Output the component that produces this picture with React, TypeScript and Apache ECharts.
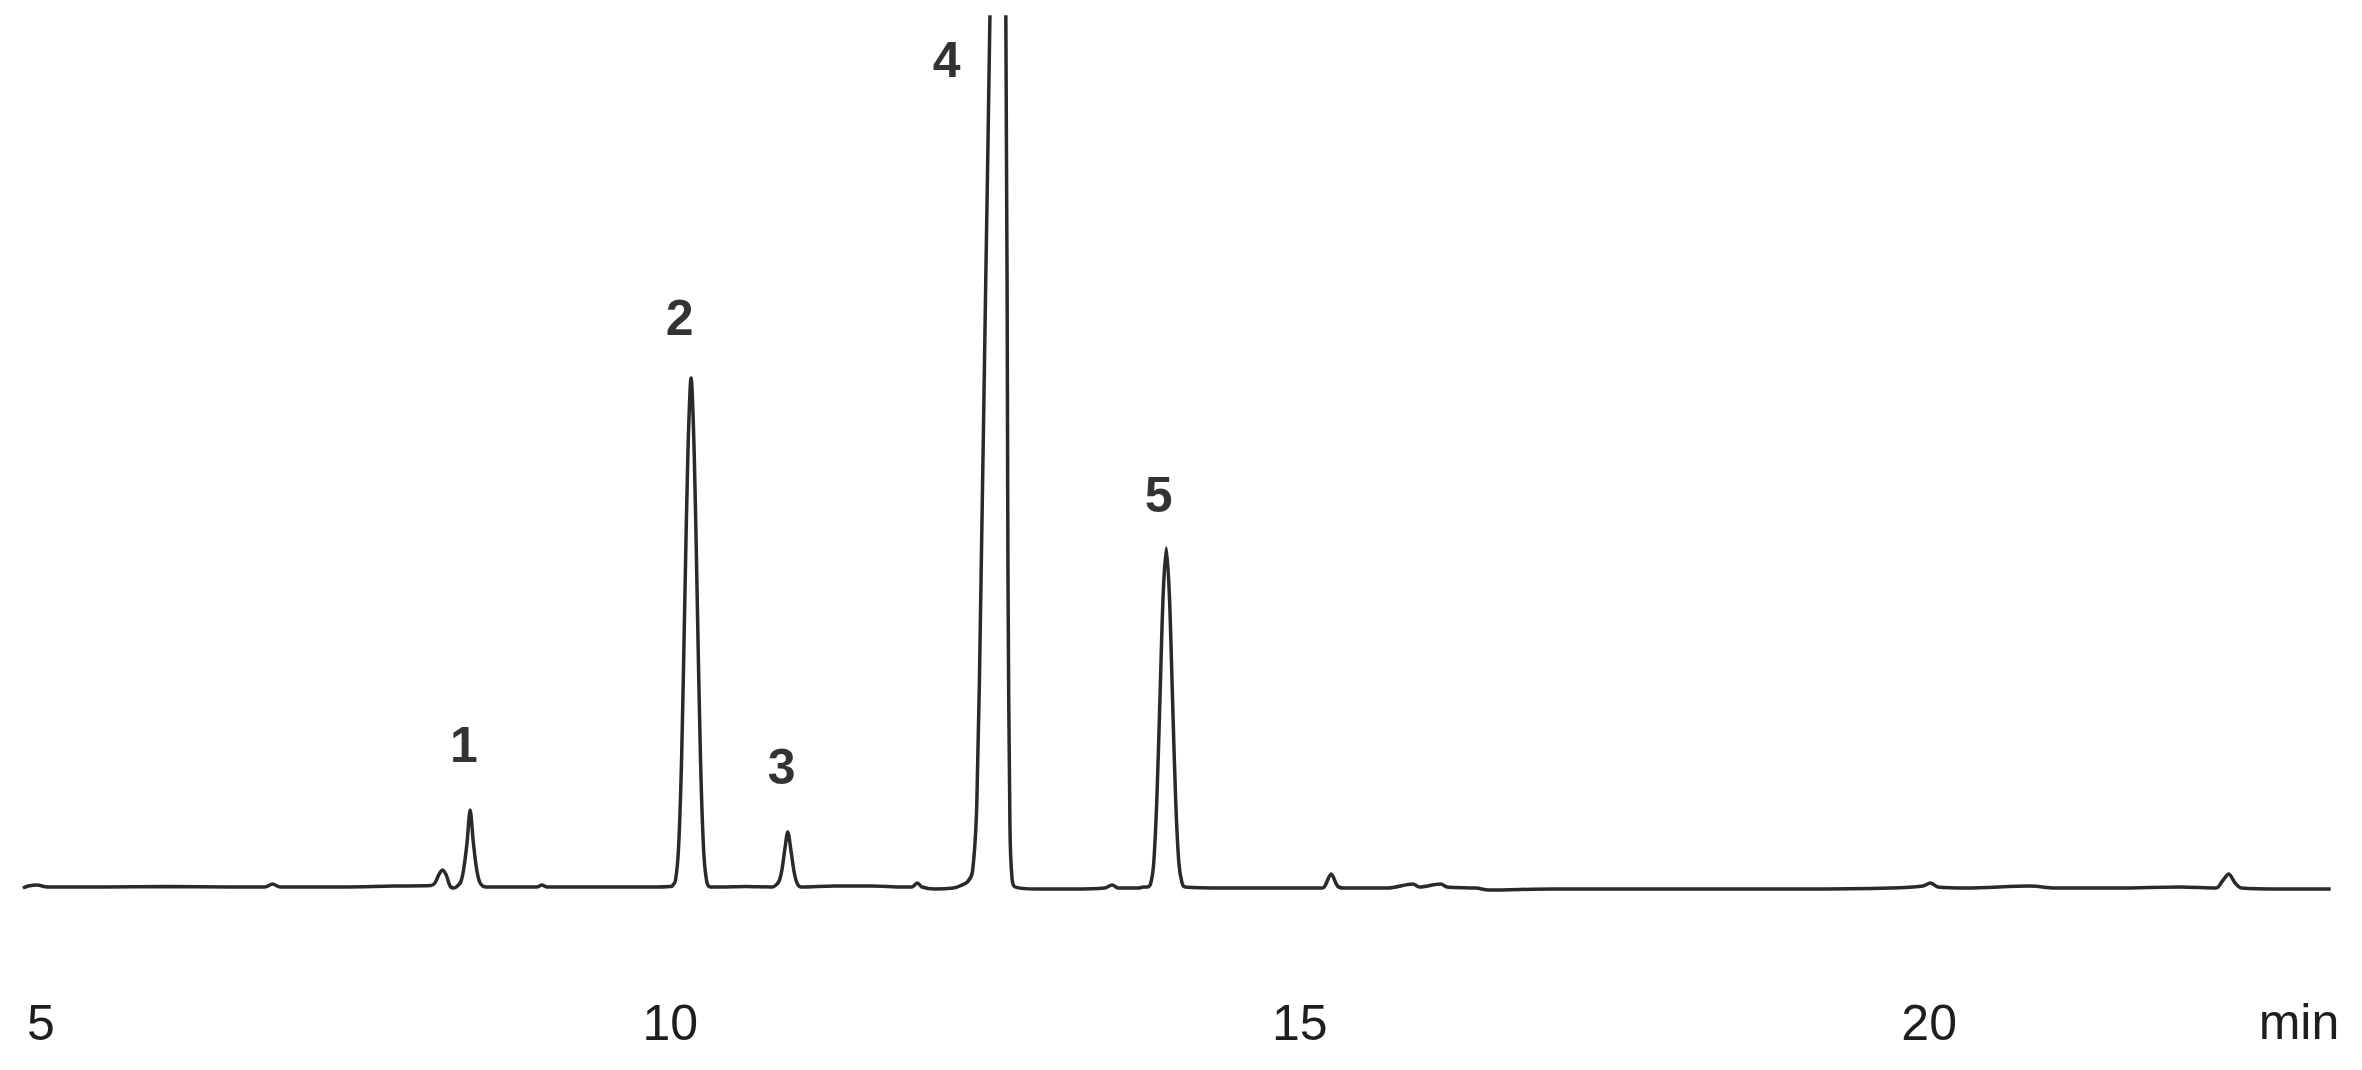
import React, { useEffect, useRef } from "react";
import * as echarts from "echarts";

// Retention time (min) and detector response (relative units, baseline = 0)
const traceTime: number[] = [
  4.857, 4.9, 4.97, 5.05, 5.5, 6.0, 6.5, 6.78, 6.84, 6.9, 7.3, 7.8, 8.1,
  8.13, 8.16, 8.19, 8.22, 8.25, 8.28,
  8.3, 8.335, 8.36, 8.385, 8.41, 8.435, 8.46, 8.485, 8.51, 8.54,
  8.94, 8.98, 9.02, 9.5, 9.9, 10.0,
  10.015, 10.04, 10.065, 10.09, 10.115, 10.14, 10.165, 10.19, 10.215, 10.24, 10.265, 10.29, 10.315,
  10.4, 10.6, 10.8,
  10.81, 10.86, 10.885, 10.91, 10.933, 10.96, 10.985, 11.01, 11.04,
  11.3, 11.6, 11.85, 11.92, 11.96, 12.0, 12.1, 12.25, 12.3, 12.36,
  12.4, 12.435, 12.47, 12.505, 12.54, 12.6, 12.665, 12.682, 12.698, 12.715, 12.74,
  12.9, 13.2, 13.45, 13.51, 13.56, 13.72, 13.76,
  13.79, 13.815, 13.84, 13.865, 13.89, 13.915, 13.94, 13.965, 13.99, 14.015, 14.04, 14.065, 14.09,
  14.4, 14.8, 15.18, 15.2, 15.25, 15.3, 15.35, 15.7, 15.9, 15.95, 16.12, 16.17, 16.4, 16.5,
  17.0, 18.0, 19.0, 19.7, 19.95, 20.01, 20.07, 20.3, 20.8, 21.0, 21.5, 22.0,
  22.28, 22.33, 22.38, 22.43, 22.48, 22.8, 23.19,
];
const traceSignal: number[] = [
  -1, 1, 2, 0, 0, 0.5, 0, 0, 3, 0, 0, 1, 1.5,
  4, 12, 17, 12, 1, -1,
  0, 5, 19, 44, 77, 45, 19, 5, 1, 0,
  0, 2, 0, 0, 0, 0.5,
  1, 6, 38, 130, 285, 435, 509, 433, 280, 127, 36, 5, 0,
  0, 0.5, 0,
  0, 5, 16, 38, 55, 35, 14, 3, 0,
  1, 1, 0, 0, 4, 0, -2, -1, 1, 5,
  15, 85, 320, 600, 880, 1500, 880, 320, 60, 8, 0,
  -2, -2, -1, 2, -1, -1, 0,
  0, 3, 24, 88, 190, 292, 339, 290, 186, 85, 24, 4, 0,
  -1, -1, -1, 1, 13, 1, -1, -1, 3, 0, 3, 0, -1, -3,
  -2, -2, -2, -1, 1, 4, 0, -1, 1, -1, -1, 0,
  -1, 6, 13, 4, -1, -2, -2,
];

// Peak annotations
const peakNames: string[] = ["1", "2", "3", "4", "5"];
const peakLabelTime: number[] = [8.36, 10.075, 10.885, 12.196, 13.88];
const peakLabelSignal: number[] = [142, 569, 120, 827, 392];

// Axis ticks
const tickValues: number[] = [5, 10, 15, 20];
const axisUnit = "min";

export default function App() {
  const ref = useRef<HTMLDivElement>(null);

  useEffect(() => {
    if (!ref.current) return;
    const chart = echarts.init(ref.current, undefined, { renderer: "svg" });
    const font = "'Liberation Sans', Arial, Helvetica, sans-serif";
    chart.setOption({
      animation: false,
      backgroundColor: "#ffffff",
      grid: {
        left: 22,
        right: 30,
        top: 17,
        bottom: 163,
        containLabel: false,
        outerBoundsMode: "none",
      },
      xAxis: {
        type: "value",
        min: 4.85,
        max: 23.2,
        axisLine: { show: false },
        axisTick: { show: false },
        splitLine: { show: false },
        axisLabel: {
          customValues: tickValues,
          formatter: (v: number) => String(v),
          fontSize: 50,
          fontFamily: font,
          color: "#1e1e1e",
          margin: 91,
        },
      },
      yAxis: {
        type: "value",
        min: -20,
        max: 870,
        show: false,
        splitLine: { show: false },
      },
      series: [
        {
          type: "line",
          data: traceTime.map((t, i) => [t, traceSignal[i]]),
          showSymbol: false,
          symbol: "none",
          clip: true,
          smooth: 0.3,
          lineStyle: { color: "#2a2a2a", width: 3.5 },
          silent: true,
          z: 2,
        },
        {
          type: "scatter",
          data: peakLabelTime.map((t, i) => ({
            value: [t, peakLabelSignal[i]],
            name: peakNames[i],
          })),
          symbolSize: 1,
          itemStyle: { color: "rgba(0,0,0,0)" },
          silent: true,
          label: {
            show: true,
            position: "inside",
            formatter: (p: any) => p.name,
            fontSize: 50,
            fontWeight: "bold",
            fontFamily: font,
            color: "#000000",
          },
          z: 3,
        },
      ],
      graphic: [
        {
          type: "text",
          x: 2299,
          y: 1022,
          style: {
            text: axisUnit,
            fontSize: 50,
            fontFamily: font,
            fill: "#1e1e1e",
            align: "center",
            verticalAlign: "middle",
            textAlign: "center",
            textVerticalAlign: "middle",
          },
        },
      ],
    });
    return () => chart.dispose();
  }, []);

  return (
    <div
      ref={ref}
      style={{ position: "absolute", left: 0, top: 0, width: 2362, height: 1070 }}
    />
  );
}
